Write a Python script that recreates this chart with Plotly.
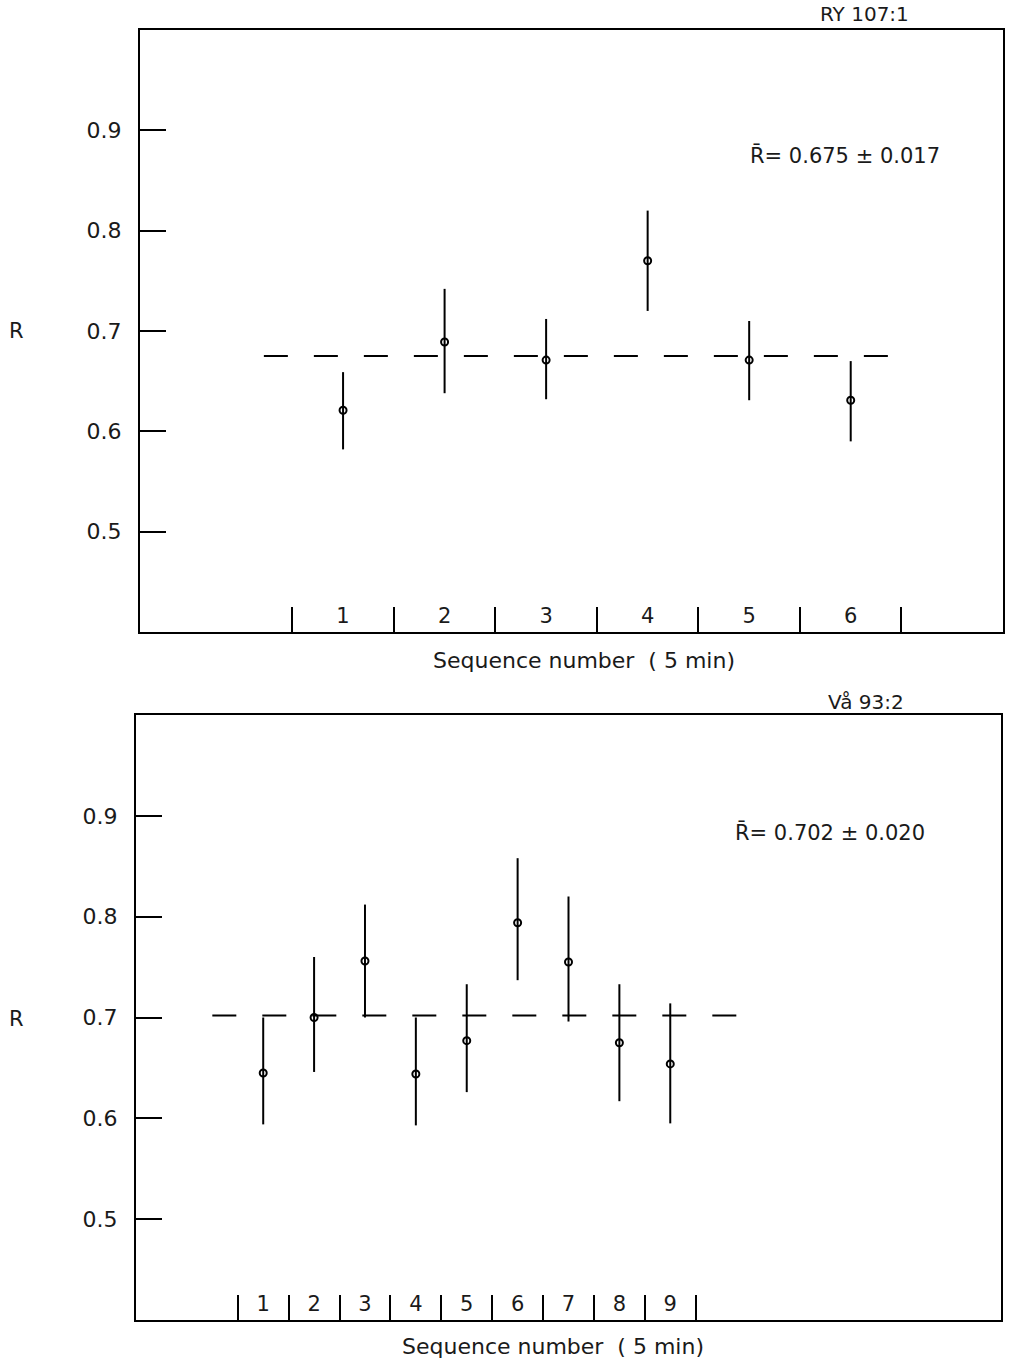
import plotly.graph_objects as go

W, H = 1011, 1364
FONT = "DejaVu Sans"

# ---- data: top panel (RY 107:1) ----
seq_top = [1, 2, 3, 4, 5, 6]
r_top = [0.621, 0.689, 0.671, 0.770, 0.671, 0.631]
r_top_hi = [0.659, 0.742, 0.712, 0.820, 0.710, 0.670]
r_top_lo = [0.582, 0.638, 0.632, 0.720, 0.631, 0.590]
mean_top = 0.675
mean_top_span = [0.22, 6.49]

# ---- data: bottom panel (Vå 93:2) ----
seq_bot = [1, 2, 3, 4, 5, 6, 7, 8, 9]
r_bot = [0.645, 0.700, 0.756, 0.644, 0.677, 0.794, 0.755, 0.675, 0.654]
r_bot_hi = [0.700, 0.760, 0.812, 0.700, 0.733, 0.858, 0.820, 0.733, 0.714]
r_bot_lo = [0.594, 0.646, 0.700, 0.593, 0.626, 0.737, 0.696, 0.617, 0.595]
mean_bot = 0.702
mean_bot_span = [0.0, 10.55]

y_ticks = [0.5, 0.6, 0.7, 0.8, 0.9]
y_ticklabels = ["0.5", "0.6", "0.7", "0.8", "0.9"]

fig = go.Figure()


def add_panel(seq, r, hi, lo, mean, span, xa, ya):
    fig.add_trace(go.Scatter(
        x=span, y=[mean, mean], mode="lines",
        line=dict(color="black", width=2, dash="24px,26px"),
        xaxis=xa, yaxis=ya, showlegend=False, hoverinfo="skip"))
    fig.add_trace(go.Scatter(
        x=seq, y=r, mode="markers",
        marker=dict(symbol="circle-open", size=7, color="black",
                    line=dict(width=2, color="black")),
        error_y=dict(type="data", symmetric=False,
                     array=[h - v for h, v in zip(hi, r)],
                     arrayminus=[v - l for v, l in zip(r, lo)],
                     width=0, thickness=2, color="black"),
        xaxis=xa, yaxis=ya, showlegend=False))


add_panel(seq_top, r_top, r_top_hi, r_top_lo, mean_top, mean_top_span, "x", "y")
add_panel(seq_bot, r_bot, r_bot_hi, r_bot_lo, mean_bot, mean_bot_span, "x2", "y2")


def xax(dom_px, seq, rng, anchor):
    seps = [s - 0.5 for s in seq] + [seq[-1] + 0.5]
    return dict(
        domain=[dom_px[0] / W, dom_px[1] / W], range=rng, anchor=anchor,
        showline=True, mirror=True, linecolor="black", linewidth=2,
        showgrid=False, zeroline=False,
        tickmode="array", tickvals=seq, ticktext=[str(s) for s in seq],
        ticks="", ticklabelposition="inside", ticklabelstandoff=6,
        tickfont=dict(family=FONT, size=21, color="#1a1a1a"),
        minor=dict(tickmode="array", tickvals=seps, ticks="inside",
                   ticklen=25, tickwidth=2, tickcolor="black", showgrid=False),
    )


def yax(dom_px, anchor):
    return dict(
        domain=[1 - dom_px[1] / H, 1 - dom_px[0] / H], range=[0.4, 1.0], anchor=anchor,
        showline=True, mirror=True, linecolor="black", linewidth=2,
        showgrid=False, zeroline=False,
        tickmode="array", tickvals=y_ticks, ticktext=y_ticklabels,
        ticks="inside", ticklen=26, tickwidth=2, tickcolor="black",
        ticklabelstandoff=12,
        tickfont=dict(family=FONT, size=22, color="#1a1a1a"),
    )


fig.update_layout(
    width=W, height=H,
    margin=dict(l=0, r=0, t=0, b=0),
    paper_bgcolor="white", plot_bgcolor="white",
    xaxis=xax((140, 1003), seq_top, [-1.0, 7.5], "y"),
    yaxis=yax((30, 632), "x"),
    xaxis2=xax((136, 1001), seq_bot, [-1.5, 15.5], "y2"),
    yaxis2=yax((715, 1320), "x2"),
    font=dict(family=FONT, color="#1a1a1a"),
)


def ann(text, px, py, size=21, xanchor="center"):
    fig.add_annotation(text=text, xref="paper", yref="paper",
                       x=px / W, y=1 - py / H, showarrow=False,
                       xanchor=xanchor, yanchor="middle",
                       font=dict(family=FONT, size=size, color="#1a1a1a"))


ann("RY 107:1", 864, 14, size=20)
ann("Vå 93:2", 866, 702, size=20)
ann("R\u0304= 0.675 ± 0.017", 748, 155, size=21, xanchor="left")
ann("R\u0304= 0.702 ± 0.020", 733, 832, size=21, xanchor="left")
ann("R", 16, 331, size=21)
ann("R", 16, 1019, size=21)
ann("Sequence number  ( 5 min)", 584, 660, size=22)
ann("Sequence number  ( 5 min)", 553, 1346, size=22)

fig.write_html(
    "out.html",
    config={"displayModeBar": False, "staticPlot": True},
    post_script="document.body.style.margin='0px';document.body.style.overflow='hidden';",
)
